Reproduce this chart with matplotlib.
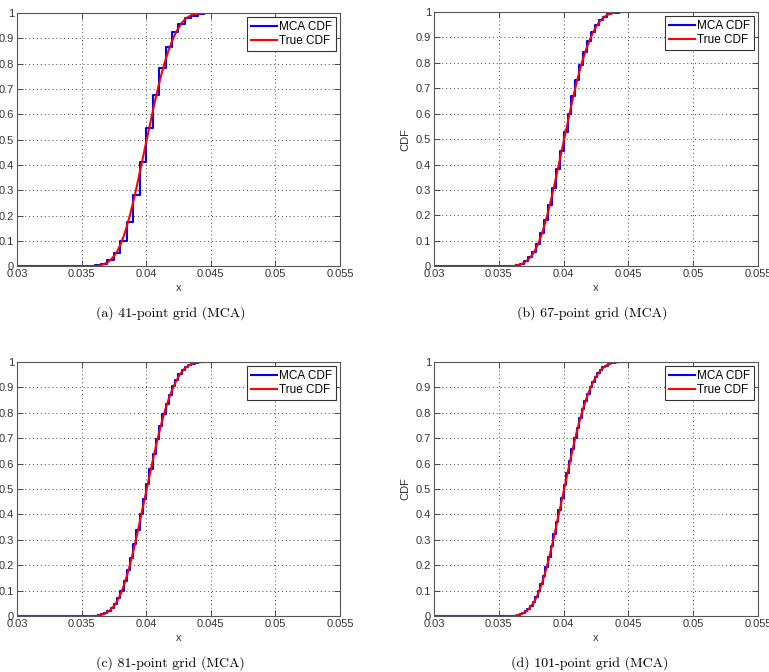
import numpy as np
import matplotlib
matplotlib.use("Agg")
import matplotlib.pyplot as plt

plt.rcParams['font.family'] = ['Liberation Sans', 'DejaVu Sans']
plt.rcParams['font.size'] = 8

# true CDF
true_x = [0.030, 0.036, 0.03625, 0.0365, 0.03675, 0.037, 0.03725, 0.0375, 0.03775,
          0.038, 0.03825, 0.0385, 0.03875, 0.039, 0.03925, 0.0395, 0.03975,
          0.040, 0.04025, 0.0405, 0.04075, 0.041, 0.04125, 0.0415, 0.04175,
          0.042, 0.04225, 0.0425, 0.04275, 0.043, 0.04325, 0.0435, 0.04375,
          0.044, 0.04425, 0.0445]
true_cdf = [0.0, 0.0, 0.001, 0.004, 0.008, 0.015, 0.025, 0.039, 0.058,
            0.084, 0.117, 0.157, 0.203, 0.255, 0.31, 0.37, 0.43,
            0.49, 0.55, 0.61, 0.668, 0.722, 0.772, 0.816, 0.855,
            0.889, 0.918, 0.942, 0.961, 0.975, 0.985, 0.992, 0.996,
            0.998, 0.9995, 1.0]

# MCA step values (first non-zero grid index, then the step heights)
mca_a_start = 12
mca_a = [0.003, 0.01, 0.024, 0.05, 0.1, 0.175, 0.28, 0.41, 0.545, 0.675,
         0.785, 0.865, 0.925, 0.958, 0.98, 0.99, 0.997, 1.0]
mca_b_start = 20
mca_b = [0.001, 0.004, 0.010, 0.020, 0.035, 0.056, 0.088, 0.130, 0.182, 0.242,
         0.308, 0.381, 0.454, 0.526, 0.599, 0.670, 0.734, 0.792, 0.842, 0.885,
         0.920, 0.948, 0.968, 0.982, 0.991, 0.996, 0.998, 0.9995, 1.0]
mca_c_start = 24
mca_c = [0.0005, 0.0025, 0.006, 0.0115, 0.020, 0.032, 0.048, 0.071, 0.100, 0.137,
         0.180, 0.229, 0.282, 0.340, 0.400, 0.460, 0.520, 0.580, 0.639, 0.695,
         0.747, 0.794, 0.836, 0.872, 0.904, 0.930, 0.952, 0.968, 0.980, 0.989,
         0.994, 0.997, 0.999, 1.0]
mca_d_start = 30
mca_d = [0.0004, 0.0015, 0.004, 0.0072, 0.0122, 0.019, 0.028, 0.039, 0.054, 0.074,
         0.097, 0.125, 0.157, 0.194, 0.234, 0.277, 0.322, 0.370, 0.418, 0.466,
         0.514, 0.562, 0.610, 0.656, 0.700, 0.742, 0.781, 0.816, 0.847, 0.875,
         0.901, 0.923, 0.942, 0.957, 0.969, 0.979, 0.986, 0.992, 0.995, 0.997,
         0.9985, 0.9995, 1.0]

panels = [
    (41, mca_a_start, mca_a, '(a) 41-point grid (MCA)', False),
    (67, mca_b_start, mca_b, '(b) 67-point grid (MCA)', True),
    (81, mca_c_start, mca_c, '(c) 81-point grid (MCA)', False),
    (101, mca_d_start, mca_d, '(d) 101-point grid (MCA)', True),
]

# axes rectangles in figure fractions
rects = [
    [0.0221, 0.604, 0.420, 0.3765],
    [0.5644, 0.604, 0.4213, 0.3780],
    [0.0221, 0.0833, 0.420, 0.3780],
    [0.5644, 0.0833, 0.4213, 0.3780],
]
caption_pos = [(0.222, 0.534), (0.770, 0.534), (0.222, 0.0134), (0.767, 0.0134)]


def mca_steps(n, start, vals):
    grid = np.linspace(0.03, 0.05, n)
    y = np.zeros(n)
    y[start:start + len(vals)] = vals
    y[start + len(vals):] = 1.0
    keep = grid <= 0.04501
    return grid[keep], y[keep]


fig = plt.figure(figsize=(7.69, 6.72), dpi=100)

for i, (n, start, vals, cap, ylab) in enumerate(panels):
    ax = fig.add_axes(rects[i])
    gx, gy = mca_steps(n, start, vals)
    ax.step(gx, gy, where='post', color='#0000ff', lw=1.5, label='MCA CDF')
    ax.plot(true_x, true_cdf, color='#ff0000', lw=1.5, label='True CDF')
    ax.set_xlim(0.03, 0.055)
    ax.set_ylim(0, 1)
    ax.set_xticks([0.03, 0.035, 0.04, 0.045, 0.05, 0.055])
    ax.set_xticklabels(['0.03', '0.035', '0.04', '0.045', '0.05', '0.055'])
    ax.set_yticks(np.arange(0, 1.01, 0.1))
    ax.set_yticklabels(['0', '0.1', '0.2', '0.3', '0.4', '0.5', '0.6', '0.7', '0.8', '0.9', '1'])
    ax.grid(True, linestyle=(0, (1, 3)), color='#444444', lw=0.7)
    ax.tick_params(direction='in', top=True, right=True, length=4, width=0.6,
                   labelsize=8, pad=2, colors='#333333')
    for s in ax.spines.values():
        s.set_color('#555555')
        s.set_linewidth(0.8)
    ax.set_xlabel('x', fontsize=8, labelpad=3, color='#333333')
    if ylab:
        ax.set_ylabel('CDF', fontsize=8, labelpad=4, color='#333333')
    leg = ax.legend(loc='upper right', fontsize=8.5, handlelength=2.2, fancybox=False,
                    framealpha=1, edgecolor='#333333', borderpad=0.3,
                    labelspacing=0.2, handletextpad=0.2, borderaxespad=0.35)
    leg.get_frame().set_linewidth(0.8)
    fig.text(caption_pos[i][0], caption_pos[i][1], cap, ha='center', va='center',
             fontsize=10, family=['cmr10', 'DejaVu Serif'])

fig.savefig('out.png', dpi=100)
